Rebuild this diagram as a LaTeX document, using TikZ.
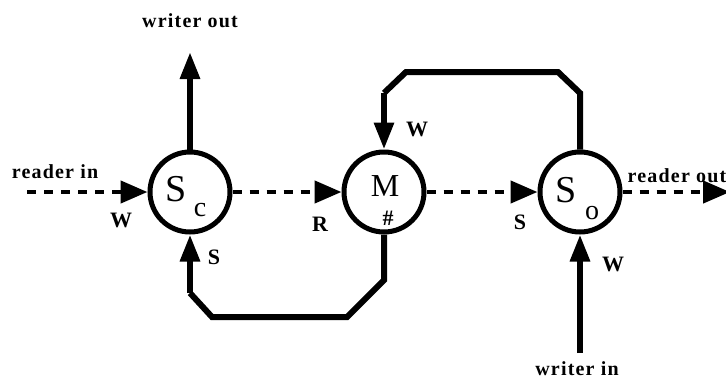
\documentclass[tikz,border=0pt]{standalone}
\usepackage{fontspec}
\setmainfont{Liberation Serif}
\usetikzlibrary{arrows.meta}
\begin{document}
\begin{tikzpicture}[x=1pt,y=-1pt,
  proc/.style={circle,draw,line width=5pt,minimum size=80pt,inner sep=0pt},
  flow/.style={line width=6pt,-{Triangle[length=27pt,width=19pt]}},
  pipe/.style={line width=6pt},
  dflow/.style={line width=4.5pt,dash pattern=on 9pt off 8pt,-{Triangle[length=27pt,width=22pt]}},
  lab/.style={font=\fontsize{20}{22}\selectfont\bfseries\addfontfeature{LetterSpace=6}},
  port/.style={font=\fontsize{22}{24}\selectfont\bfseries}]
\useasboundingbox (0,0) rectangle (726,381);
\node[proc] (sc) at (190,192) {};
\node[proc] (m) at (384,192) {};
\node[proc] (so) at (580,192) {};
% letters inside
\node[font=\fontsize{38}{40}\selectfont] (scS) at (176,189) {S};
\node[font=\fontsize{28}{30}\selectfont] (scc) at (200,210) {c};
\node[font=\fontsize{32}{34}\selectfont] (mM) at (385,186) {M};
\node[font=\fontsize{22}{24}\selectfont\bfseries] (mh) at (388,218) {\#};
\node[font=\fontsize{38}{40}\selectfont] (soS) at (566,190) {S};
\node[font=\fontsize{28}{30}\selectfont] (soo) at (592,213) {o};
% coordinates
\coordinate (wout) at (190,52);
\coordinate (rin) at (27,192);
\coordinate (rout) at (730,192);
\coordinate (win) at (580,353);
\coordinate (b1) at (384,280);
\coordinate (b2) at (347,317);
\coordinate (b3) at (212,317);
\coordinate (b4) at (190,293);
\coordinate (t1) at (580,93);
\coordinate (t2) at (558,72);
\coordinate (t3) at (406,72);
\coordinate (t4) at (384,93);
% connectors
\draw[flow] (sc.north) -- (wout);
\draw[flow] (win) -- (so.south);
\draw[pipe] (m.south) -- (b1) -- (b2) -- (b3) -- (b4);
\draw[flow] (b4) -- (sc.south);
\draw[pipe] (so.north) -- (t1) -- (t2) -- (t3) -- (t4);
\draw[flow] (t4) -- (m.north);
\draw[dflow] (rin) -- (sc.west);
\draw[dflow] (sc.east) -- (m.west);
\draw[dflow] (m.east) -- (so.west);
\draw[dflow] (so.east) -- (rout);
% labels
\node[lab] (lwout) at (190,21) {writer out};
\node[lab] (lrin) at (55,172) {reader in};
\node[lab] (lrout) at (677,176) {reader out};
\node[lab] (lwin) at (577,369) {writer in};
\node[port] (p1) at (121,220) {W};
\node[port] (p2) at (214,257) {S};
\node[port] (p3) at (320,224) {R};
\node[port] (p4) at (417,129) {W};
\node[port] (p5) at (520,222) {S};
\node[port] (p6) at (613,264) {W};
\end{tikzpicture}
\end{document}
